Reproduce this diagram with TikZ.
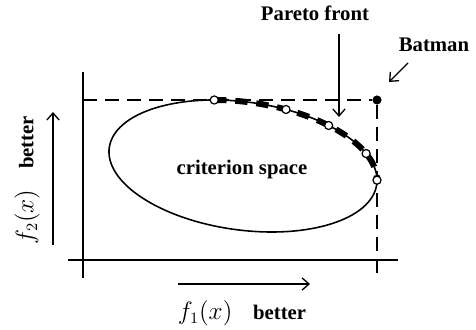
\documentclass[tikz,border=0pt]{standalone}
\usepackage{fontspec}
\setmainfont{Liberation Serif}
\usetikzlibrary{arrows.meta,positioning,calc}
\newcommand{\mathlabel}[1]{{\fontsize{13.5}{15}\selectfont$#1$}}
\tikzset{
    every node/.style={font=\fontsize{11.8}{13}\selectfont\bfseries},
    axisline/.style={line width=1.1pt},
    guideline/.style={line width=0.8pt, dash pattern=on 8pt off 4.5pt},
    barbarrow/.style={-{Straight Barb[length=4pt,width=7pt]}, line width=0.75pt},
    frontline/.style={line width=3.4pt, dash pattern=on 7pt off 5pt},
    frontpt/.style={circle, draw, fill=white, line width=0.7pt, inner sep=0pt, minimum size=4.6pt},
    idealpt/.style={circle, fill=black, inner sep=0pt, minimum size=5.2pt},
}

\begin{document}
\begin{tikzpicture}[x=0.02cm, y=0.02cm]
    \useasboundingbox (0,0) rectangle (476,330);

    % Axes
    \coordinate (xstart) at (68,70);
    \coordinate (xend) at (398,70);
    \coordinate (ystart) at (83,52);
    \coordinate (yend) at (83,258);
    \draw[axisline] (xstart) -- (xend);
    \draw[axisline] (ystart) -- (yend);

    % Ideal point and guide lines
    \node[idealpt] (batman) at (377,230) {};
    \coordinate (hguide) at (83,230);
    \coordinate (vguide) at (377,56);
    \draw[guideline] (hguide) -- (batman);
    \draw[guideline] (batman) -- (vguide);

    % Criterion space
    \begin{scope}[shift={(243,164)}, rotate=-7.8]
        \draw[line width=0.9pt] (0,0) ellipse [x radius=135, y radius=64];
        \draw[frontline] (106.1:135 and 64) arc [start angle=106.1, end angle=3.7, x radius=135, y radius=64];
        \node[frontpt] (pa) at (106.1:135 and 64) {};
        \node[frontpt] (pb) at (75:135 and 64) {};
        \node[frontpt] (pc) at (54:135 and 64) {};
        \node[frontpt] (pd) at (27:135 and 64) {};
        \node[frontpt] (pe) at (3.7:135 and 64) {};
    \end{scope}
    \node (space) at (242,160) {criterion space};

    % Labels
    \node (front) at (315,317) {Pareto front};
    \coordinate (fronttip) at (339,213);
    \draw[barbarrow, shorten <=4pt] (front.south -| fronttip) -- (fronttip);

    \node (batlabel) at (434,285) {Batman};
    \coordinate (battail) at (408,267);
    \coordinate (battip) at (389,248);
    \draw[barbarrow] (battail) -- (battip);

    % Better directions
    \coordinate (fonetail) at (178,46);
    \coordinate (fonetip) at (310,46);
    \draw[barbarrow] (fonetail) -- (fonetip);
    \node (fonelabel) at (242,17) {\mathlabel{f_1(x)}\quad better};

    \coordinate (ftwotail) at (53,85);
    \coordinate (ftwotip) at (53,218);
    \draw[barbarrow] (ftwotail) -- (ftwotip);
    \node[rotate=90] (ftwolabel) at (27,150) {\mathlabel{f_2(x)}\quad better};
\end{tikzpicture}
\end{document}
